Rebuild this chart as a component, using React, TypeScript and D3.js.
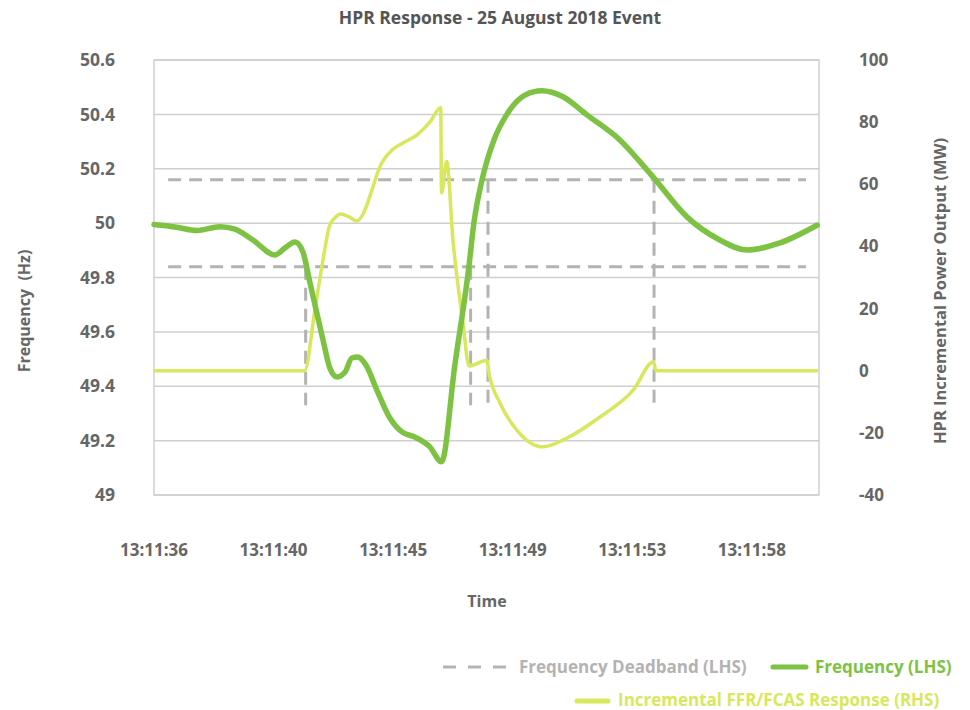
import * as d3 from 'd3';

const W = 970;
const H = 710;

const TITLE = 'HPR Response - 25 August 2018 Event';

// seconds after 13:11:00
const FREQ_T = [
  36.3, 37.07, 37.88, 38.73, 39.28, 39.94, 40.75, 41.12, 41.49, 41.78, 42.04, 42.52, 42.77, 43.03,
  43.33, 43.58, 43.8, 44.1, 44.5, 44.98, 45.42, 45.9, 46.45, 46.88, 47.37, 47.89, 48.07, 48.37,
  48.81, 49.29, 49.95, 50.57, 51.35, 52.23, 53.44, 54.66, 55.91, 57.12, 58.12, 59.33, 60.71,
];
const FREQ_HZ = [
  49.995, 49.986, 49.973, 49.987, 49.978, 49.938, 49.883, 49.909, 49.931, 49.894, 49.78, 49.57,
  49.467, 49.434, 49.452, 49.504, 49.508, 49.478, 49.386, 49.283, 49.232, 49.213, 49.177, 49.122,
  49.478, 49.842, 50.0, 50.159, 50.306, 50.401, 50.471, 50.487, 50.465, 50.398, 50.306, 50.17,
  50.023, 49.938, 49.901, 49.927, 49.993,
];

const RESP_T = [
  36.3, 41.84, 42.22, 42.48, 42.77, 42.99, 43.18, 43.47, 43.77, 44.03, 44.32, 44.61, 45.06, 45.46,
  45.98, 46.45, 46.85, 46.88, 47.07, 47.3, 47.67, 47.89, 48.55, 48.62, 49.03, 49.65, 50.61, 51.49,
  52.71, 53.94, 54.68, 54.77, 60.73,
];
const RESP_MW = [
  0, 0, 19.5, 33.7, 46.9, 49.5, 50.4, 49.5, 48.2, 51.1, 58.2, 65.6, 71.0, 73.3, 75.9, 80.0, 84.6,
  57.2, 67.3, 42.1, 15.4, 1.5, 3.4, -0.4, -10.4, -19.1, -24.5, -21.7, -14.9, -6.2, 2.9, 0, 0,
];

const DEADBAND_HZ = [49.84, 50.16];
const DEADBAND_SPAN = [36.82, 60.29];
const CROSS_T = [41.88, 47.95, 48.59, 54.7];
const CROSS_FROM_HZ = [49.84, 49.84, 50.16, 50.16];
const CROSS_TO_HZ = 49.33;

const X_DOMAIN = [36.3, 60.77];
const X_TICK_T = [36.3, 40.7, 45.1, 49.5, 53.9, 58.3];
const X_TICK_LABELS = ['13:11:36', '13:11:40', '13:11:45', '13:11:49', '13:11:53', '13:11:58'];
const HZ_TICKS = [49, 49.2, 49.4, 49.6, 49.8, 50, 50.2, 50.4, 50.6];
const MW_TICKS = [-40, -20, 0, 20, 40, 60, 80, 100];

const GREEN = '#7dc242';
const YELLOW = '#d8e75c';
const DASH_GREY = '#b3b3b3';
const GRID = '#cfcfcf';
const TEXT = '#666666';
const FONT = "'Open Sans', sans-serif";

export default function App() {
  const left = 154;
  const right = 819;
  const top = 60;
  const bottom = 495;

  const x = d3.scaleLinear().domain(X_DOMAIN).range([left, right]);
  const yHz = d3.scaleLinear().domain([49, 50.6]).range([bottom, top]);
  const yMw = d3.scaleLinear().domain([-40, 100]).range([bottom, top]);

  const freqLine = d3
    .line<number>()
    .x((_, i) => x(FREQ_T[i]))
    .y((d) => yHz(d))
    .curve(d3.curveMonotoneX);
  const respLine = d3
    .line<number>()
    .x((_, i) => x(RESP_T[i]))
    .y((d) => yMw(d))
    .curve(d3.curveMonotoneX);

  const fmtHz = (d: number) => String(+d.toFixed(1));

  return (
    <svg
      width={W}
      height={H}
      style={{ position: 'absolute', left: 0, top: 0, background: '#fff' }}
      fontFamily={FONT}
    >
      <text x={500} y={24} textAnchor="middle" fontSize={17.5} fontWeight={700} fill="#555">
        {TITLE}
      </text>

      {/* grid */}
      {HZ_TICKS.map((t) => (
        <line key={t} x1={left} x2={right} y1={yHz(t)} y2={yHz(t)} stroke={GRID} strokeWidth={1.5} />
      ))}
      <rect x={left} y={top} width={right - left} height={bottom - top} fill="none" stroke={GRID} strokeWidth={1.5} />

      {/* left ticks */}
      {HZ_TICKS.map((t) => (
        <text key={t} x={115} y={yHz(t)} dy="0.35em" textAnchor="end" fontSize={17.5} fontWeight={700} fill={TEXT}>
          {fmtHz(t)}
        </text>
      ))}
      {/* right ticks */}
      {MW_TICKS.map((t) => (
        <text key={t} x={859} y={yMw(t)} dy="0.35em" textAnchor="start" fontSize={17} fontWeight={700} fill={TEXT}>
          {t}
        </text>
      ))}
      {/* x ticks */}
      {X_TICK_T.map((t, i) => (
        <text key={t} x={x(t)} y={556} textAnchor="middle" fontSize={17} fontWeight={700} fill={TEXT}>
          {X_TICK_LABELS[i]}
        </text>
      ))}

      <text x={487} y={607} textAnchor="middle" fontSize={16} fontWeight={700} fill={TEXT}>
        Time
      </text>
      <text
        transform="translate(30,311) rotate(-90)"
        textAnchor="middle"
        fontSize={16}
        fontWeight={700}
        fill={TEXT}
        style={{ whiteSpace: 'pre' }}
      >
        {'Frequency  (Hz)'}
      </text>
      <text transform="translate(946,291) rotate(-90)" textAnchor="middle" fontSize={16.5} fontWeight={700} fill={TEXT}>
        HPR Incremental Power Output (MW)
      </text>

      {/* deadband */}
      <g stroke={DASH_GREY} strokeWidth={3} strokeDasharray="13,8" fill="none">
        {DEADBAND_HZ.map((v) => (
          <line key={v} x1={x(DEADBAND_SPAN[0])} x2={x(DEADBAND_SPAN[1])} y1={yHz(v)} y2={yHz(v)} />
        ))}
        {CROSS_T.map((t, i) => (
          <line key={t} x1={x(t)} x2={x(t)} y1={yHz(CROSS_FROM_HZ[i])} y2={yHz(CROSS_TO_HZ)} />
        ))}
      </g>

      <path d={respLine(RESP_MW) ?? ''} fill="none" stroke={YELLOW} strokeWidth={3.5} strokeLinejoin="round" />
      <path d={freqLine(FREQ_HZ) ?? ''} fill="none" stroke={GREEN} strokeWidth={5.5} strokeLinejoin="round" strokeLinecap="round" />

      {/* legend */}
      <line x1={443} x2={508} y1={667} y2={667} stroke={DASH_GREY} strokeWidth={3} strokeDasharray="13,12" />
      <text x={519} y={667} dy="0.35em" fontSize={17} fontWeight={700} fill={DASH_GREY}>
        Frequency Deadband (LHS)
      </text>
      <line x1={773} x2={806} y1={667} y2={667} stroke={GREEN} strokeWidth={5} strokeLinecap="round" />
      <text x={815} y={667} dy="0.35em" fontSize={17} fontWeight={700} fill={GREEN}>
        Frequency (LHS)
      </text>
      <line x1={577} x2={608} y1={701} y2={701} stroke={YELLOW} strokeWidth={5} strokeLinecap="round" />
      <text x={618} y={700} dy="0.35em" fontSize={17} fontWeight={700} fill={YELLOW}>
        Incremental FFR/FCAS Response (RHS)
      </text>
    </svg>
  );
}
